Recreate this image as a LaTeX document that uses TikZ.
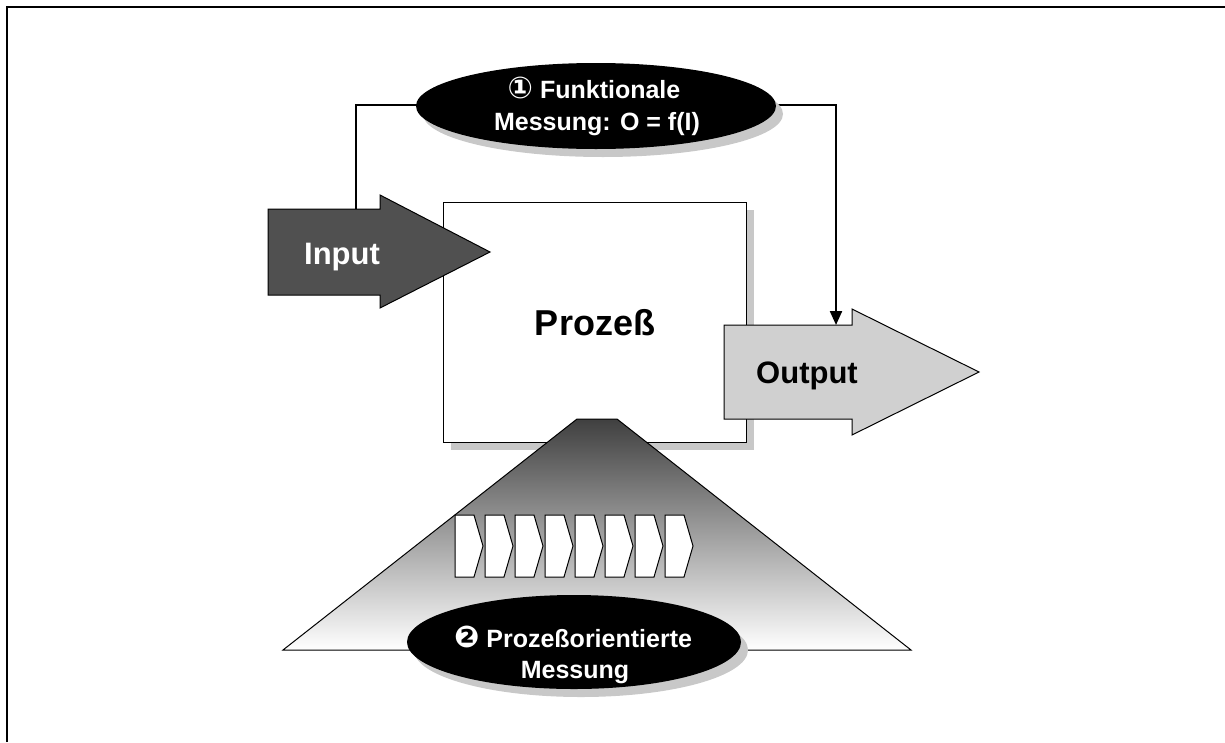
\documentclass[tikz,border=0pt]{standalone}
\usepackage{fontspec}
\setmainfont{Liberation Sans}
\newfontfamily\circfont{DejaVu Sans}
\usetikzlibrary{shapes.geometric,arrows.meta}

\definecolor{shadowgray}{HTML}{C8C8C8}
\definecolor{indark}{HTML}{505050}
\definecolor{outlight}{HTML}{D0D0D0}

\begin{document}
\begin{tikzpicture}[x=1pt,y=-1pt,
  thinline/.style={draw=black,line width=1pt},
  darkoval/.style={ellipse, fill=black, inner sep=0pt, minimum width=#1},
  ovalshadow/.style={ellipse, fill=shadowgray, inner sep=0pt, minimum width=#1},
  lbl/.style={font=\bfseries\fontsize{31}{37}\selectfont, inner sep=0pt, anchor=base},
  ovaltext/.style={font=\bfseries\fontsize{25}{30}\selectfont, text=white, inner sep=0pt, anchor=base},
  chev/.style={thinline, fill=white},
  feedback/.style={line width=2.2pt, -{Triangle[width=12pt,length=14pt]}}
]
\newcommand{\circdigit}[1]{{\circfont\fontsize{30}{30}\selectfont #1}}
\useasboundingbox (0,0) rectangle (1225,742);

% outer frame
\draw[line width=2.3pt] (7,742) -- (7,7) -- (1225,7);

% feedback loop from input to output
\coordinate (fbStart) at (356,209);
\coordinate (fbA) at (356,105);
\coordinate (fbB) at (836,105);
\coordinate (fbEnd) at (836,325);
\draw[feedback] (fbStart) -- (fbA) -- (fbB) -- (fbEnd);

% functional measurement oval
\node[ovalshadow=360pt, minimum height=86pt] (e1s) at (603,114) {};
\node[darkoval=360pt, minimum height=86pt] (e1) at (596,106) {};
\node[ovaltext] (e1a) at (594,98) {\circdigit{①} Funktionale};
\node[ovaltext] (e1b) at (597,130) {Messung: O = f(I)};

% process box
\node[fill=shadowgray, minimum width=303pt, minimum height=240pt, inner sep=0pt] (procs) at (602.5,330) {};
\node[thinline, fill=white, minimum width=303pt, minimum height=240pt, inner sep=0pt] (proc) at (594.5,322) {};
\node[lbl, font=\bfseries\fontsize{36}{40}\selectfont] (proct) at (595,335) {Prozeß};

% input arrow
\draw[thinline, fill=indark] (268,209) -- (380,209) -- (380,195) -- (490,252)
  -- (380,308) -- (380,295) -- (268,295) -- cycle;
\node[lbl, text=white] (inp) at (342,264) {Input};

% output arrow
\draw[thinline, fill=outlight] (724,325) -- (852,325) -- (852,309) -- (979,372)
  -- (852,435) -- (852,419) -- (724,419) -- cycle;
\node[lbl] (outp) at (807,383) {Output};

% process-oriented view cone
\draw[thinline, top color=black!75, bottom color=white]
  (577,419) -- (617,419) -- (911,650) -- (283,650) -- cycle;

% process chain
\foreach \i in {0,...,7} {
  \draw[chev] ({455+30*\i},515) -- ++(19,0) -- ++(9,31) -- ++(-9,31) -- ++(-19,0) -- cycle;
}

% process-oriented measurement oval
\node[ovalshadow=334pt, minimum height=94pt] (e2s) at (581,650) {};
\node[darkoval=334pt, minimum height=94pt] (e2) at (574,642) {};
\node[ovaltext] (e2a) at (573,647) {\circdigit{❷} Prozeßorientierte};
\node[ovaltext] (e2b) at (575,678) {Messung};
\end{tikzpicture}
\end{document}
